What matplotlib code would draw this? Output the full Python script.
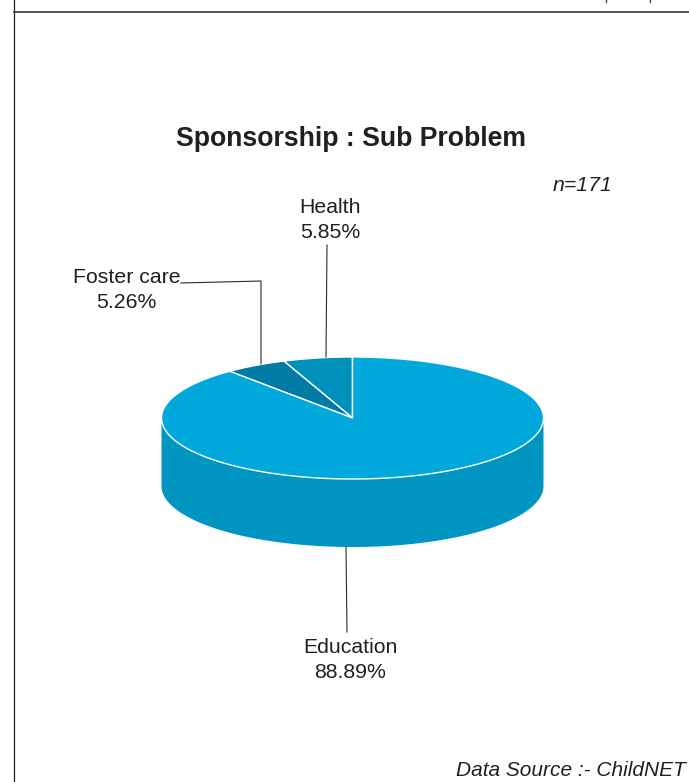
import numpy as np
import matplotlib
matplotlib.use("Agg")
import matplotlib.pyplot as plt

categories = ["Health", "Foster care", "Education"]
values = [5.85, 5.26, 88.89]
value_labels = ["5.85%", "5.26%", "88.89%"]
top_colors = ["#0090BC", "#007BA3", "#00A8DC"]
side_color = "#0096C1"
title = "Sponsorship : Sub Problem"
note = "n=171"
source = "Data Source :- ChildNET"

W, H = 689, 782
cx, cy, rx, ry, depth = 352.5, 418, 191, 61, 68

plt.rcParams["font.family"] = ["Liberation Sans", "DejaVu Sans"]
fig = plt.figure(figsize=(W / 100, H / 100), dpi=100)
ax = fig.add_axes([0, 0, 1, 1])
ax.set_xlim(0, W)
ax.set_ylim(H, 0)
ax.axis("off")

def pt(t):
    # t = degrees counter-clockwise from 12 o'clock, on the top ellipse
    t = np.radians(t)
    return cx - rx * np.sin(t), cy - ry * np.cos(t)

# side wall (front half of the cylinder)
ts = np.linspace(90, 270, 200)
xs, ys = pt(ts)
ax.fill(np.r_[xs, xs[::-1]], np.r_[ys, ys[::-1] + depth], color=side_color, lw=0, zorder=1)

# top slices, driven by the values
start = 0.0
for v, c in zip(values, top_colors):
    end = start + v / sum(values) * 360
    ts = np.linspace(start, end, 300)
    xs, ys = pt(ts)
    ax.fill(np.r_[cx, xs], np.r_[cy, ys], facecolor=c, edgecolor="white", lw=1.0,
            joinstyle="miter", zorder=2)
    start = end

# leader lines
lc = "#2b2b2b"
ax.plot([181, 261, 261], [283, 281, 364], color=lc, lw=0.8, zorder=3)
ax.plot([327, 326], [245, 357], color=lc, lw=0.8, zorder=3)
ax.plot([346, 347], [547, 632], color=lc, lw=0.8, zorder=3)

# frame
ax.plot([14, 14], [0, H], color="#222222", lw=0.9, clip_on=False)
ax.plot([14, W], [11.5, 11.5], color="#222222", lw=1.1, clip_on=False)
for x in (605.5, 649.5):
    ax.plot([x, x], [0, 2], color="#444444", lw=1.0)

tc = "#231F20"
fs = 15.3
ax.text(350.5, 138.5, title, ha="center", va="center", fontsize=19.2, fontweight="bold", color=tc)
ax.text(582.5, 185.5, note, ha="center", va="center", fontsize=fs, style="italic", color=tc)
label_xy = [(330, 207.5, 232.5), (126.5, 277.5, 303), (350, 647.5, 672.5)]
for n, vl, (x, y1, y2) in zip(categories, value_labels, label_xy):
    ax.text(x, y1, n, ha="center", va="center", fontsize=fs, color=tc)
    ax.text(x, y2, vl, ha="center", va="center", fontsize=fs, color=tc)
ax.text(456, 771, source, ha="left", va="center", fontsize=15.0, style="italic", color=tc)

fig.savefig("out.png", dpi=100)
